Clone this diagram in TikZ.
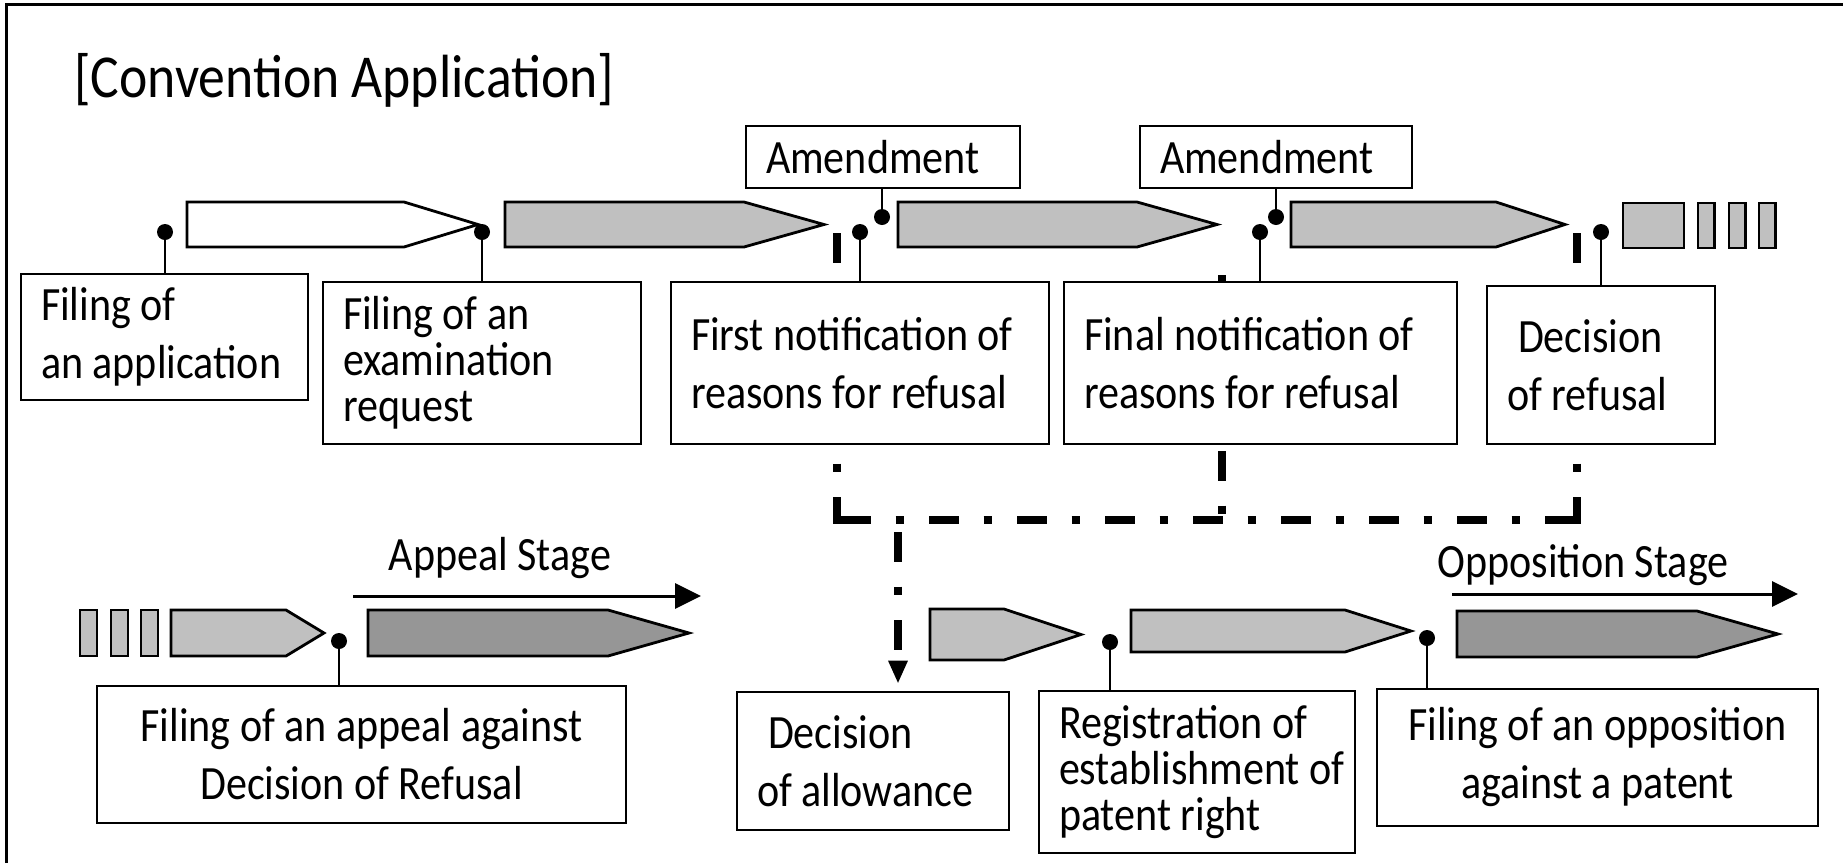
\documentclass[tikz,border=0pt]{standalone}
\usepackage{fontspec}
\setmainfont{Carlito}[FakeStretch=0.88]
\usetikzlibrary{arrows.meta,backgrounds}
\definecolor{lightgrey}{RGB}{192,192,192}
\definecolor{darkgrey}{RGB}{150,150,150}
\newcommand{\boxfont}{\fontsize{23.9pt}{29pt}\selectfont}
\newcommand{\tightfont}{\fontsize{23.9pt}{23pt}\selectfont\lineskiplimit=-20pt}
\newcommand{\titlefont}{\fontsize{30.5pt}{35pt}\selectfont}
% stage arrow: fill, left x, shoulder x, tip x, top y, bottom y
\newcommand{\stagearrow}[6]{%
  \draw[stage,fill=#1] (#2,#5) -- (#3,#5) -- (#4,{(#5+#6)/2}) -- (#3,#6) -- (#2,#6) -- cycle;}
\tikzset{
  notebox/.style={
    % The shape:
    rectangle,
    % The border:
    draw, line width=1.3pt,
    % The filling:
    fill=white,
    % The text:
    inner xsep=10pt, inner ysep=0pt, align=flush left, font=\boxfont},
  stage/.style={draw, line width=1.4pt, line join=miter},
  dot/.style={circle, fill, inner sep=0pt, minimum size=8pt},
  pin/.style={line width=1.2pt},
  dashdot/.style={line width=4pt, dash pattern=on 15pt off 12.25pt on 4pt off 12.75pt},
  stageline/.style={line width=1.5pt, -{Triangle[length=13pt,width=12.5pt]}},
  stagelabel/.style={anchor=base, inner sep=0pt, font=\boxfont},
  frame/.style={line width=1.5pt}
}
\begin{document}
\begin{tikzpicture}[x=0.5pt,y=-0.5pt]
  \useasboundingbox (0,0) rectangle (1843,863);
  \draw[frame] (6,863) -- (6,4) -- (1843,4);

  \node[anchor=base west, inner sep=0pt, font=\titlefont] (title) at (74,97) {[Convention Application]};

  % examination stage
  \stagearrow{white}{187}{404}{478}{202}{247}
  \stagearrow{lightgrey}{505}{744}{824}{202}{247}
  \stagearrow{lightgrey}{898}{1137}{1217}{202}{247}
  \stagearrow{lightgrey}{1291}{1496}{1565}{202}{247}
  \draw[stage,fill=lightgrey] (1623,203) rectangle (1684,248);
  \foreach \x in {1698,1729,1759}
    \draw[stage,fill=lightgrey] (\x,203) rectangle ++(16.5,45);

  \node[notebox, text width=123.5pt, minimum height=63pt] (bApp) at (164.5,337) {Filing of\\an application};
  \node[notebox, text width=139pt, minimum height=81pt, font=\tightfont] (bExam) at (482,363) {Filing of an\\examination\\request};
  \node[notebox, text width=169pt, minimum height=81pt] (bFirst) at (860,363) {First notification of\\reasons for refusal};
  \node[notebox, text width=176.5pt, minimum height=81pt] (bFinal) at (1260.5,363) {Final notification of\\reasons for refusal};
  \node[notebox, text width=94pt, minimum height=79pt] (bRefusal) at (1601,365) {\hspace*{0.23em}Decision\\of refusal};
  \node[notebox, text width=117pt, minimum height=31pt] (aAmendA) at (883,157) {Amendment};
  \node[notebox, text width=116pt, minimum height=31pt] (aAmendB) at (1276,157) {Amendment};

  \node[dot] (dApp) at (165,232) {};
  \node[dot] (dExam) at (482,232) {};
  \node[dot] (dFirst) at (860,232) {};
  \node[dot] (dFinal) at (1260,232) {};
  \node[dot] (dRefusal) at (1601,232) {};
  \node[dot] (dAmendA) at (882,217) {};
  \node[dot] (dAmendB) at (1276,217) {};

  % appeal and opposition stage
  \foreach \x in {80,111,141}
    \draw[stage,fill=lightgrey] (\x,610) rectangle ++(17,46);
  \stagearrow{lightgrey}{171}{286}{324}{610}{656}
  \stagearrow{darkgrey}{368}{608}{689}{610}{656}
  \stagearrow{lightgrey}{930}{1004}{1081}{609}{660}
  \stagearrow{lightgrey}{1131}{1345}{1411}{610}{652}
  \stagearrow{darkgrey}{1457}{1697}{1778}{611}{657}

  \node[notebox, align=flush center, text width=244.5pt, minimum height=68.5pt] (bAppeal) at (361.5,754.5) {Filing of an appeal against\\Decision of Refusal};
  \node[notebox, text width=116pt, minimum height=69pt] (bAllow) at (873,761) {\hspace*{0.23em}Decision\\of allowance};
  \node[notebox, text width=138pt, minimum height=81pt, font=\tightfont] (bRegist) at (1197,772) {Registration of\\\makebox[138pt][l]{establishment of}\\patent right};
  \node[notebox, align=flush center, text width=200.5pt, minimum height=68.5pt] (bOppos) at (1597.5,757.5) {Filing of an opposition\\against a patent};

  \node[dot] (dAppeal) at (339,641) {};
  \node[dot] (dRegist) at (1110,642) {};
  \node[dot] (dOppos) at (1427,638) {};

  \foreach \d/\b in {dApp/bApp,dExam/bExam,dFirst/bFirst,dFinal/bFinal,dRefusal/bRefusal,dAppeal/bAppeal,dRegist/bRegist,dOppos/bOppos}
    \draw[pin] (\d) -- (\d |- \b.north);
  \foreach \d/\b in {dAmendA/aAmendA,dAmendB/aAmendB}
    \draw[pin] (\d) -- (\d |- \b.south);

  \coordinate (appealFrom) at (353,596);
  \coordinate (appealTo) at (701,596);
  \draw[stageline] (appealFrom) -- (appealTo);
  \node[stagelabel] (appealLbl) at (500,570) {Appeal Stage};
  \coordinate (opposFrom) at (1452,594);
  \coordinate (opposTo) at (1798,594);
  \draw[stageline] (opposFrom) -- (opposTo);
  \node[stagelabel] (opposLbl) at (1583,577) {Opposition Stage};

  % route to allowance
  \coordinate (cFirst) at (837,233);
  \coordinate (cFinal) at (1222,275);
  \coordinate (cRefusal) at (1577,233);
  \coordinate (cLeft) at (837,520);
  \coordinate (cMid) at (1222,520);
  \coordinate (cRight) at (1577,520);
  \coordinate (cDrop) at (898,532);
  \begin{scope}[on background layer]
    \draw[dashdot] (cFirst) -- ([yshift=-2pt]cLeft);
    \draw[dashdot] (cFinal) -- ([yshift=2pt]cMid);
    \draw[dashdot] (cRefusal) -- ([yshift=-2pt]cRight);
    \draw[dashdot] ([xshift=2pt]cLeft) -- ([xshift=2pt]cRight);
    \draw[dashdot, -{Triangle[length=11.5pt,width=9pt]}, shorten >=3.5pt] (cDrop) -- (cDrop |- bAllow.north);
  \end{scope}
\end{tikzpicture}
\end{document}
